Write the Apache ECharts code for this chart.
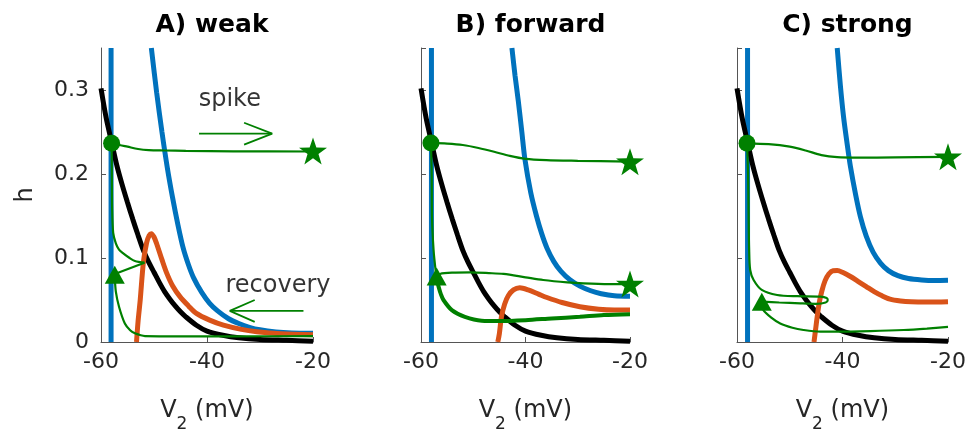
<!DOCTYPE html>
<html>
<head>
<meta charset="utf-8">
<script src="https://cdn.jsdelivr.net/npm/echarts@6/dist/echarts.min.js"></script>
<style>
html, body { margin: 0; padding: 0; background: #fff; }
#chart { width: 978px; height: 434px; }
</style>
</head>
<body>
<div id="chart"></div>
<script>
// axes
const xTicks = [-60, -40, -20];
const yTicks = [0, 0.1, 0.2, 0.3];
const yMax = 0.35;
const panelTitles = ['A) weak', 'B) forward', 'C) strong'];

// black h-nullcline, same in every panel
const nullcline = [[-60, 0.302], [-59, 0.266], [-58, 0.238], [-57, 0.210], [-56, 0.187], [-55, 0.166],
  [-54, 0.146], [-53, 0.127], [-52, 0.109], [-51, 0.095], [-50, 0.083], [-49, 0.071], [-48, 0.060],
  [-47, 0.051], [-46, 0.043], [-45, 0.036], [-44, 0.030], [-42, 0.020], [-40, 0.013], [-37, 0.008],
  [-34, 0.005], [-30, 0.003], [-25, 0.002], [-20, 0.001]];

// blue vertical nullcline position per panel
const blueVert = [-58.1, -58.0, -58.0];

// A) weak
const blueA = [[-50.5, 0.35], [-49.5, 0.297], [-48.5, 0.250], [-47.5, 0.208], [-46.5, 0.172], [-45.5, 0.140],
  [-44.5, 0.112], [-43.5, 0.092], [-42.5, 0.076], [-41, 0.059], [-39.5, 0.046], [-38, 0.037], [-36, 0.028],
  [-34, 0.022], [-32, 0.0175], [-30, 0.0145], [-27, 0.012], [-24, 0.0108], [-20, 0.0103]];
const orangeA = [[-53.3, 0], [-53.0, 0.025], [-52.6, 0.05], [-52.0, 0.095], [-51.4, 0.118], [-50.9, 0.127],
  [-50.5, 0.129], [-50.0, 0.125], [-49.5, 0.117], [-48.5, 0.098], [-47.6, 0.082], [-46.5, 0.067],
  [-45.1, 0.054], [-43.5, 0.043], [-42, 0.034], [-39.5, 0.026], [-36.9, 0.020], [-33.5, 0.015],
  [-30.6, 0.0123], [-26, 0.0098], [-20, 0.0085]];
const spikeA = [[-58, 0.237], [-56.5, 0.2345], [-55, 0.2325], [-53, 0.2298], [-51, 0.2285], [-48, 0.228],
  [-44, 0.2275], [-35, 0.227], [-20, 0.2268]];
const fallA = [[-58, 0.237], [-57.95, 0.2], [-57.9, 0.16], [-57.7, 0.13], [-57.2, 0.1175], [-56.6, 0.11],
  [-55.8, 0.1055], [-54.6, 0.1], [-53.6, 0.0965], [-51.8, 0.0944]];
const backA = [[-51.8, 0.0944], [-57.4, 0.081]];
const recoverA = [[-57.4, 0.078], [-57.2, 0.06], [-56.6, 0.042], [-55.5, 0.022], [-54.5, 0.014],
  [-53.6, 0.0103], [-52.5, 0.008], [-51.7, 0.0071], [-45, 0.0068], [-35, 0.0068], [-20, 0.007]];
const circleA = [[-58, 0.2365]];
const triangleA = [[-57.4, 0.08]];
const starA = [[-20, 0.2275]];

// B) forward
const blueB = [[-42.6, 0.35], [-42.0, 0.317], [-41.4, 0.288], [-40.7, 0.25], [-40.1, 0.217], [-39.0, 0.178],
  [-37.9, 0.150], [-36.9, 0.129], [-35.9, 0.112], [-34.6, 0.096], [-33.2, 0.084], [-31.5, 0.074],
  [-29.6, 0.0665], [-27.5, 0.061], [-25.5, 0.0575], [-23, 0.055], [-20, 0.0545]];
const orangeB = [[-45.3, 0], [-45.0, 0.01], [-44.6, 0.03], [-44.0, 0.045], [-43.3, 0.055], [-42.3, 0.062],
  [-41.1, 0.0645], [-39.5, 0.062], [-37.5, 0.057], [-35.9, 0.053], [-33, 0.047], [-29.6, 0.042],
  [-26, 0.039], [-23, 0.038], [-20, 0.038]];
const spikeB = [[-58.1, 0.237], [-55, 0.2362], [-52, 0.2345], [-49, 0.231], [-46, 0.2265], [-43, 0.2215],
  [-40, 0.218], [-36, 0.2165], [-30, 0.2157], [-20, 0.2147]];
const fallB = [[-58.1, 0.237], [-57.95, 0.2], [-57.9, 0.15], [-57.6, 0.11], [-57.2, 0.085], [-57.0, 0.078]];
const upperB = [[-57.0, 0.078], [-56.4, 0.081], [-54, 0.0825], [-50.6, 0.0828], [-47, 0.082], [-44.2, 0.081],
  [-40, 0.077], [-36.6, 0.0738], [-32, 0.071], [-28.9, 0.0698], [-24, 0.069], [-20, 0.069]];
const lowerB = [[-57.0, 0.075], [-56.6, 0.065], [-56.2, 0.057], [-55.7, 0.05], [-54.1, 0.038], [-51.6, 0.030],
  [-48.4, 0.0254], [-45, 0.025], [-40, 0.026], [-35, 0.028], [-29.6, 0.030], [-25, 0.032], [-20, 0.033]];
const circleB = [[-58.1, 0.237]];
const triangleB = [[-57.0, 0.078]];
const starB = [[-20, 0.2147], [-20, 0.069]];

// C) strong
const blueC = [[-41.0, 0.35], [-40.4, 0.305], [-39.8, 0.268], [-39.1, 0.235], [-38.5, 0.209], [-37.5, 0.175],
  [-36.6, 0.149], [-35.5, 0.126], [-34.2, 0.107], [-32.8, 0.094], [-31.3, 0.085], [-29.5, 0.079],
  [-27.5, 0.0755], [-25, 0.0738], [-22.5, 0.0732], [-20, 0.0735]];
const orangeC = [[-45.4, 0], [-45.1, 0.015], [-44.8, 0.03], [-44.4, 0.047], [-43.9, 0.061], [-43.3, 0.073],
  [-42.6, 0.081], [-41.8, 0.0848], [-41, 0.085], [-40, 0.083], [-38.5, 0.078], [-37, 0.072], [-35.5, 0.066],
  [-34, 0.060], [-32.5, 0.055], [-31, 0.051], [-29, 0.0488], [-27, 0.0478], [-24, 0.0475], [-20, 0.048]];
const spikeC = [[-58.1, 0.2365], [-54, 0.2355], [-50, 0.2325], [-47, 0.228], [-44, 0.2225], [-41, 0.220],
  [-37, 0.2195], [-30, 0.2198], [-20, 0.2205]];
const fallC = [[-58.1, 0.2365], [-57.9, 0.2], [-57.8, 0.15], [-57.7, 0.11], [-57.5, 0.0857], [-56.85, 0.0738],
  [-55.3, 0.062], [-52.4, 0.056], [-48.6, 0.0545], [-44.2, 0.054], [-43.0, 0.0525], [-42.8, 0.05],
  [-43.2, 0.047], [-45, 0.0455], [-48, 0.046], [-52, 0.047], [-55.3, 0.048]];
const recoverC = [[-55.3, 0.046], [-55, 0.038], [-53.5, 0.029], [-51.8, 0.022], [-49.5, 0.017], [-47.4, 0.0143],
  [-44.2, 0.0123], [-41, 0.0123], [-34.7, 0.013], [-28.4, 0.0143], [-24, 0.016], [-20, 0.018]];
const circleC = [[-58.1, 0.2365]];
const triangleC = [[-55.3, 0.048]];
const starC = [[-20, 0.2205]];

// annotation arrows in panel A (data coordinates)
const spikeShaft = [[-41.5, 0.248], [-27.8, 0.248]];
const spikeHead = [[-33.0, 0.261], [-27.7, 0.248], [-33.0, 0.235]];
const recShaft = [[-21.8, 0.037], [-35.6, 0.037]];
const recHead = [[-31.0, 0.050], [-35.7, 0.037], [-31.0, 0.024]];
const labelSpike = [[-35.7, 0.288]];
const labelRecovery = [[-26.6, 0.067]];

const BLUE = '#0072BD';
const ORANGE = '#D95319';
const GREEN = '#008000';
const FONT = 'DejaVu Sans';
const STAR = 'path://M50,0 L61.8,35.1 L98.9,35.5 L69.1,57.6 L80.2,93.1 L50,71.6 L19.8,93.1 L30.9,57.6 L1.1,35.5 L38.2,35.1 Z';

const gridBoxes = [
  { left: 101, top: 48, width: 212, height: 294, outerBoundsMode: 'none' },
  { left: 421, top: 48, width: 209, height: 294, outerBoundsMode: 'none' },
  { left: 737, top: 48, width: 211, height: 294, outerBoundsMode: 'none' }
];

function line(i, data, color, width, z, smooth) {
  return {
    type: 'line', xAxisIndex: i, yAxisIndex: i, data,
    symbol: 'none', smooth: smooth === undefined ? 0.3 : smooth,
    lineStyle: { color, width }, z, silent: true
  };
}

function marker(i, data, symbol, size) {
  return {
    type: 'scatter', xAxisIndex: i, yAxisIndex: i, data, symbol, symbolSize: size,
    itemStyle: { color: GREEN, opacity: 1 }, z: 10, clip: false, silent: true
  };
}

function text(i, data, str) {
  return {
    type: 'scatter', xAxisIndex: i, yAxisIndex: i, data, symbolSize: 1,
    itemStyle: { color: 'rgba(0,0,0,0)' }, z: 11, clip: false, silent: true,
    label: { show: true, position: 'inside', formatter: str, fontFamily: FONT, fontSize: 24, color: '#000' }
  };
}

function vertical(i) {
  return line(i, [[blueVert[i], 0], [blueVert[i], yMax]], BLUE, 5, 2, false);
}

const panels = [
  { blue: blueA, orange: orangeA, green: [spikeA, fallA, recoverA], circle: circleA, triangle: triangleA, star: starA },
  { blue: blueB, orange: orangeB, green: [spikeB, fallB, upperB], circle: circleB, triangle: triangleB, star: starB },
  { blue: blueC, orange: orangeC, green: [spikeC, fallC, recoverC], circle: circleC, triangle: triangleC, star: starC }
];

const series = [];
panels.forEach((p, i) => {
  series.push(vertical(i));
  series.push(line(i, p.blue, BLUE, 5, 2));
  series.push(line(i, nullcline, '#000', 5, 3));
  series.push(line(i, p.orange, ORANGE, 5, 4));
  p.green.forEach(g => series.push(line(i, g, GREEN, 2.2, 5)));
  series.push(marker(i, p.circle, 'circle', 17));
  series.push(marker(i, p.triangle, 'triangle', [20, 18]));
  series.push(marker(i, p.star, STAR, [28, 27]));
});
series.push(line(0, backA, GREEN, 2.2, 5, false));
series.push(line(1, lowerB, GREEN, 4, 5));
series.push(line(0, spikeShaft, GREEN, 1.8, 5, false));
series.push(line(0, spikeHead, GREEN, 1.8, 5, false));
series.push(line(0, recShaft, GREEN, 1.8, 5, false));
series.push(line(0, recHead, GREEN, 1.8, 5, false));
series.push(text(0, labelSpike, 'spike'));
series.push(text(0, labelRecovery, 'recovery'));

const axisColor = '#555';
const labelStyle = { fontFamily: FONT, fontSize: 22, color: '#262626' };

const option = {
  animation: false,
  backgroundColor: '#fff',
  title: panelTitles.map((t, i) => ({
    text: t,
    left: gridBoxes[i].left + gridBoxes[i].width / 2,
    top: 8,
    textAlign: 'center',
    textStyle: { fontFamily: FONT, fontSize: 25, fontWeight: 'bold', color: '#000' }
  })),
  grid: gridBoxes,
  xAxis: gridBoxes.map((g, i) => ({
    type: 'value', gridIndex: i,
    min: xTicks[0], max: xTicks[xTicks.length - 1], interval: xTicks[1] - xTicks[0],
    name: '{v|V}{s|2}{v| (mV)}{p| }',
    nameLocation: 'middle', nameGap: 57,
    nameTextStyle: {
      rich: {
        v: { fontFamily: FONT, fontSize: 24, color: '#262626', lineHeight: 24, verticalAlign: 'top' },
        s: { fontFamily: FONT, fontSize: 17, color: '#262626', lineHeight: 14, verticalAlign: 'bottom' },
        p: { fontSize: 1, lineHeight: 34 }
      }
    },
    axisLine: { lineStyle: { color: axisColor, width: 1 } },
    axisTick: { inside: true, length: 5, lineStyle: { color: axisColor } },
    axisLabel: Object.assign({ margin: 9 }, labelStyle),
    splitLine: { show: false }
  })),
  yAxis: gridBoxes.map((g, i) => ({
    type: 'value', gridIndex: i,
    min: yTicks[0], max: yMax, interval: yTicks[1] - yTicks[0],
    name: i === 0 ? 'h' : '',
    nameLocation: 'middle', nameGap: 63, nameRotate: 90,
    nameTextStyle: { fontFamily: FONT, fontSize: 24, color: '#262626' },
    axisLine: { lineStyle: { color: axisColor, width: 1 } },
    axisTick: { inside: true, length: 5, lineStyle: { color: axisColor } },
    axisLabel: Object.assign({ show: i === 0, margin: 12, showMaxLabel: false }, labelStyle),
    splitLine: { show: false }
  })),
  series
};

const chart = echarts.init(document.getElementById('chart'), null, { renderer: 'canvas' });
chart.setOption(option);
</script>
</body>
</html>
